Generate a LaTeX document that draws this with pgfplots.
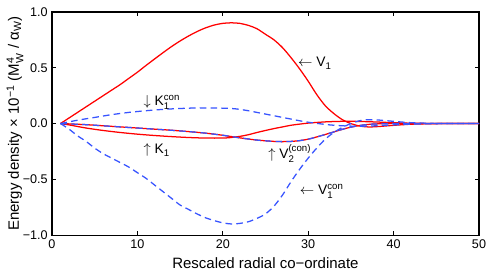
\documentclass[border=0pt]{standalone}
\usepackage{fontspec}
\setmainfont{Liberation Sans}
\usepackage{amsmath}
\usepackage{pgfplots}
\pgfplotsset{compat=1.18}
\usetikzlibrary{calc}
\definecolor{mred}{rgb}{1,0,0}
\definecolor{mblue}{rgb}{0.22,0.33,1}
\begin{document}
\begin{tikzpicture}
\begin{axis}[
  scale only axis, width=356pt, height=186pt,
  xmin=0, xmax=50, ymin=-1, ymax=1,
  xtick={0,10,20,30,40,50},
  ytick={-1,-0.5,0,0.5,1},
  yticklabels={−1.0,−0.5,0.0,0.5,1.0},
  /pgf/number format/assume math mode=true,
  tick align=inside, major tick length=3.5pt,
  axis line style={line width=1pt},
  every tick/.style={black, line width=0.8pt},
  ticklabel style={font=\fontsize{10.5}{12}\selectfont},
  label style={font=\fontsize{12.5}{14}\selectfont},
  xlabel={Rescaled radial co−ordinate},
  ylabel={Energy density × 10\textsuperscript{−1} (M$_{\text{W}}^{\text{4}}$ / $\text{α}_{\text{W}}$)},
  xlabel style={at={(axis description cs:0.5,-0.148)}, anchor=base},
  ylabel style={at={(axis description cs:-0.0772,0.5)}, anchor=base},
]
\coordinate (sw) at (rel axis cs:0,0);
\coordinate (ne) at (rel axis cs:1,1);
% V1
\addplot[mred, line width=1.05pt, smooth] coordinates {
(1,0) (2,0.05) (3,0.10) (4,0.15) (5,0.20) (6,0.25) (7,0.30) (8,0.35) (9,0.405) (10,0.46)
(11,0.52) (12,0.578) (13,0.635) (14,0.69) (15,0.74) (16,0.785) (17,0.825) (18,0.858) (19,0.883)
(20,0.898) (21,0.903) (22,0.898) (23,0.88) (24,0.85) (25,0.80) (26,0.75) (27,0.68) (28,0.59)
(29,0.49) (30,0.38) (31,0.26) (32,0.16) (33,0.09) (34,0.035) (35,0.0) (36,-0.022) (37,-0.03)
(38,-0.028) (40,-0.016) (42,-0.006) (44,-0.002) (46,0) (50,0)};
% K1
\addplot[mred, line width=1.05pt, smooth] coordinates {
(1,0) (2,-0.012) (4,-0.04) (6,-0.062) (8,-0.08) (10,-0.095) (12,-0.107) (14,-0.117) (16,-0.125)
(18,-0.13) (20,-0.13) (21,-0.125) (22,-0.115) (23,-0.1) (24,-0.08) (25,-0.062) (26,-0.045)
(27,-0.03) (28,-0.015) (29,-0.005) (30,0.004) (31,0.01) (32,0.015) (33,0.018) (34,0.02)
(35,0.02) (36,0.019) (38,0.014) (40,0.008) (42,0.003) (44,0.001) (46,0) (50,0)};
% V2
\addplot[mred, line width=1.05pt, smooth] coordinates {
(1,0) (2,-0.003) (4,-0.01) (6,-0.02) (8,-0.03) (10,-0.04) (12,-0.05) (14,-0.06) (16,-0.072)
(18,-0.086) (20,-0.105) (22,-0.128) (24,-0.148) (26,-0.16) (27,-0.162) (28,-0.16) (29,-0.153)
(30,-0.14) (31,-0.12) (32,-0.098) (33,-0.075) (34,-0.052) (35,-0.032) (36,-0.018) (37,-0.008)
(38,-0.003) (40,0.0) (42,0.001) (44,0) (50,0)};
% V2con (coincides with V2)
\addplot[mblue, line width=1.05pt, dash pattern=on 5.5pt off 3.5pt, smooth] coordinates {
(1,0) (2,-0.003) (4,-0.01) (6,-0.02) (8,-0.03) (10,-0.04) (12,-0.05) (14,-0.06) (16,-0.072)
(18,-0.086) (20,-0.105) (22,-0.128) (24,-0.148) (26,-0.16) (27,-0.162) (28,-0.16) (29,-0.153)
(30,-0.14) (31,-0.12) (32,-0.098) (33,-0.075) (34,-0.052) (35,-0.032) (36,-0.018) (37,-0.008)
(38,-0.003) (40,0.0) (42,0.001) (44,0) (50,0)};
% K1con
\addplot[mblue, line width=1.05pt, dash pattern=on 5.5pt off 3.5pt, smooth] coordinates {
(1,0) (3,0.03) (5,0.055) (7,0.08) (9,0.10) (11,0.115) (13,0.127) (15,0.135) (17,0.14) (19,0.14)
(21,0.135) (22,0.127) (23,0.115) (24,0.10) (25,0.085) (26,0.07) (27,0.055) (28,0.04) (29,0.025)
(30,0.012) (31,0.002) (32,-0.008) (33,-0.015) (34,-0.02) (35,-0.023) (36,-0.024) (38,-0.02)
(40,-0.012) (42,-0.005) (44,-0.002) (46,0) (50,0)};
% V1con
\addplot[mblue, line width=1.05pt, dash pattern=on 5.5pt off 3.5pt, smooth] coordinates {
(1,0) (2,-0.05) (3,-0.11) (4,-0.16) (5,-0.22) (6,-0.27) (7,-0.31) (8,-0.35) (9,-0.39) (10,-0.44)
(11,-0.49) (12,-0.55) (13,-0.61) (14,-0.67) (15,-0.73) (16,-0.77) (17,-0.81) (18,-0.845)
(19,-0.87) (20,-0.89) (21,-0.90) (22,-0.895) (23,-0.88) (24,-0.85) (25,-0.81) (26,-0.74)
(27,-0.64) (28,-0.52) (29,-0.41) (30,-0.31) (31,-0.22) (32,-0.14) (33,-0.08) (34,-0.035)
(35,0.0) (36,0.025) (37,0.035) (38,0.033) (40,0.02) (42,0.008) (44,0.003) (46,0) (50,0)};
\node[anchor=west, font=\fontsize{11.5}{13}\selectfont, inner sep=0pt] at (axis cs:28.8,0.54) {$\leftarrow$ V$_{\text{1}}$};
\node[anchor=west, font=\fontsize{11.5}{13}\selectfont, inner sep=0pt] at (axis cs:10.7,0.19) {$\downarrow$ K$_{\text{1}}^{\text{con}}$};
\node[anchor=west, font=\fontsize{11.5}{13}\selectfont, inner sep=0pt] at (axis cs:10.7,-0.24) {$\uparrow$ K$_{\text{1}}$};
\node[anchor=west, font=\fontsize{11.5}{13}\selectfont, inner sep=0pt] at (axis cs:25.3,-0.27) {$\uparrow$ V$_{\text{2}}^{\text{(con)}}$};
\node[anchor=west, font=\fontsize{11.5}{13}\selectfont, inner sep=0pt] at (axis cs:29.0,-0.61) {$\leftarrow$ V$_{\text{1}}^{\text{con}}$};
\end{axis}
\pgfresetboundingbox
\path[use as bounding box] ($(sw)+(-43.3pt,-31.7pt)$) rectangle ($(ne)+(10pt,10pt)$);
\end{tikzpicture}
\end{document}
